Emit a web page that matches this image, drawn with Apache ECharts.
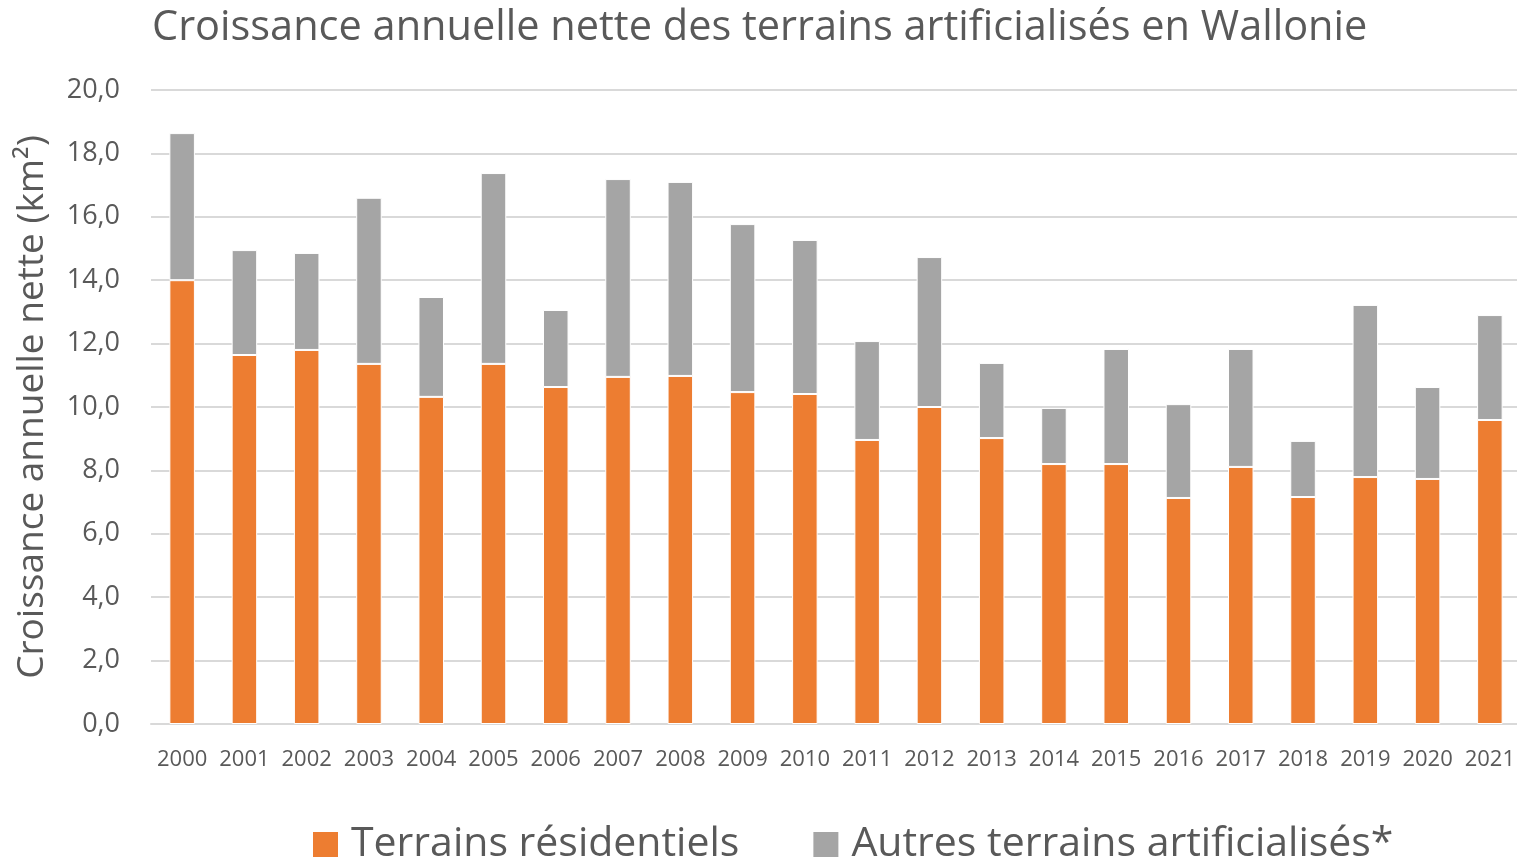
<!DOCTYPE html>
<html><head><meta charset="utf-8">
<script src="https://cdn.jsdelivr.net/npm/echarts@6/dist/echarts.min.js"></script>
<style>html,body{margin:0;padding:0;background:#fff}#c{width:1517px;height:861px}</style>
</head><body><div id="c"></div>
<script>
const years = ['2000','2001','2002','2003','2004','2005','2006','2007','2008','2009','2010','2011','2012','2013','2014','2015','2016','2017','2018','2019','2020','2021'];
const residentiels = [14.0,11.64,11.8,11.36,10.32,11.36,10.63,10.95,10.98,10.47,10.41,8.96,10.0,9.02,8.2,8.2,7.13,8.11,7.16,7.79,7.73,9.59];
const totals = [18.64,14.95,14.86,16.6,13.47,17.38,13.06,17.19,17.1,15.77,15.27,12.08,14.73,11.39,9.97,11.83,10.09,11.83,8.93,13.22,10.63,12.9];
const autres = totals.map((t,i)=>+(t-residentiels[i]).toFixed(2));
const font = 'Open Sans';
const chart = echarts.init(document.getElementById('c'));
chart.setOption({
  animation:false,
  textStyle:{fontFamily:font,color:'#595959'},
  title:{text:'Croissance annuelle nette des terrains artificialisés en Wallonie',left:147,top:2,
    textStyle:{fontFamily:font,fontSize:41.5,fontWeight:'normal',color:'#595959'}},
  legend:{left:306,top:819,itemWidth:27,itemHeight:27,itemGap:72,icon:'rect',
    textStyle:{fontFamily:font,fontSize:41,color:'#595959',padding:[0,0,0,7]},
    data:['Terrains résidentiels','Autres terrains artificialisés*']},
  grid:{left:151,right:-4,top:90,bottom:137,containLabel:false,outerBoundsMode:'none'},
  xAxis:{type:'category',data:years,
    axisLine:{lineStyle:{color:'#d9d9d9',width:2}},axisTick:{show:false},
    axisLabel:{fontFamily:font,fontSize:22,color:'#595959',margin:25,interval:0}},
  yAxis:{type:'value',min:0,max:20,interval:2,
    name:'Croissance annuelle nette (km²)',nameLocation:'middle',nameGap:100,
    nameTextStyle:{fontFamily:font,fontSize:37,color:'#595959'},
    axisLabel:{fontFamily:font,fontSize:27,color:'#595959',margin:31,
      formatter:v=>v.toFixed(1).replace('.',',')},
    splitLine:{lineStyle:{color:'#d9d9d9',width:2}},axisLine:{show:false},axisTick:{show:false}},
  series:[
    {name:'Terrains résidentiels',type:'bar',stack:'a',data:residentiels,barWidth:'41%',
      itemStyle:{color:'#ED7D31',borderColor:'#fff',borderWidth:1}},
    {name:'Autres terrains artificialisés*',type:'bar',stack:'a',data:autres,barWidth:'41%',
      itemStyle:{color:'#A5A5A5',borderColor:'#fff',borderWidth:1}}
  ]
});
</script></body></html>
